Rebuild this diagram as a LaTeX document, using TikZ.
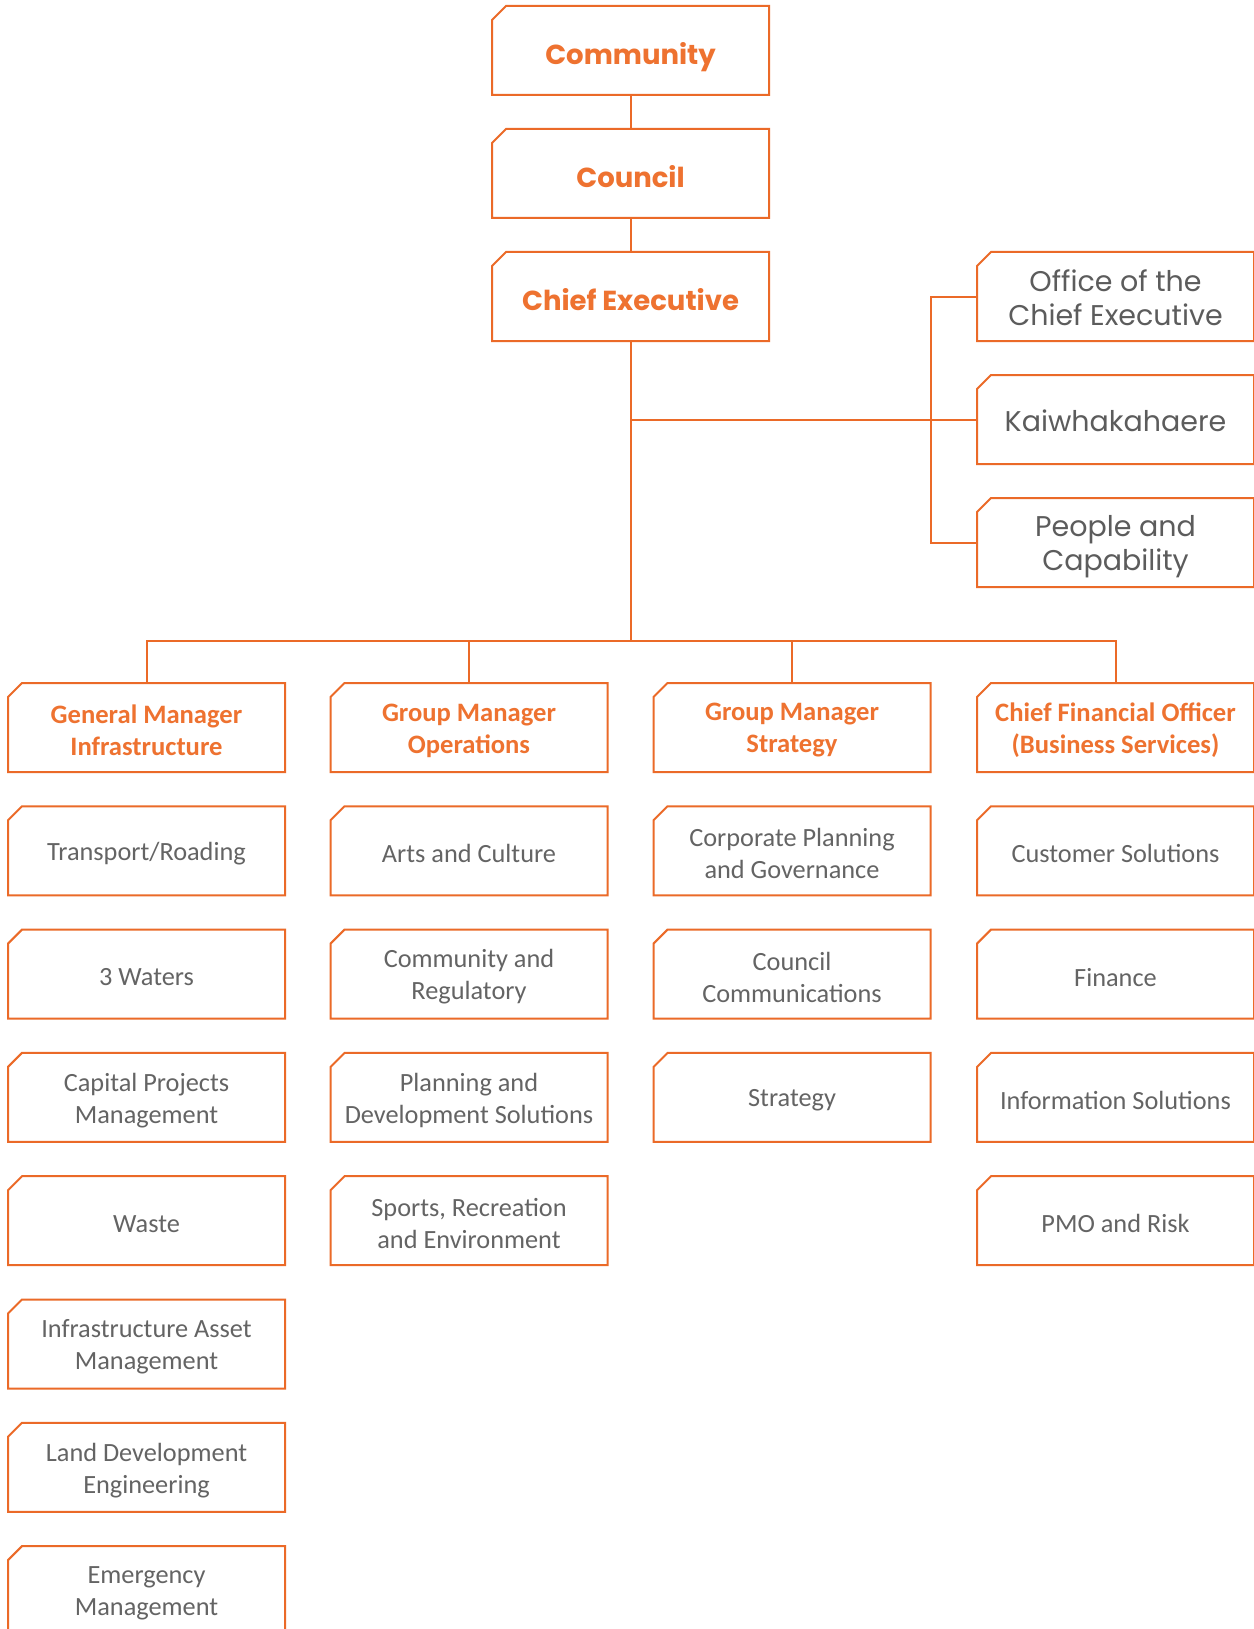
\documentclass[tikz,border=0pt]{standalone}
\usepackage{fontspec}
\setmainfont{Carlito}
\newfontfamily\popfont{Poppins}
\definecolor{ln}{HTML}{EB6A28}
\definecolor{otx}{HTML}{EE7230}
\definecolor{gtx}{HTML}{5C5C5C}
\definecolor{itx}{HTML}{646464}
\tikzset{
 base/.style={minimum width=277pt, minimum height=89pt, inner sep=0pt, outer sep=0pt},
 txt/.style={inner sep=0pt, outer sep=0pt, align=center},
 toptxt/.style={txt, font=\popfont\bfseries\fontsize{27.5}{34}\selectfont, text=otx, text height=20pt, text depth=0pt, yshift=-4pt},
 sidetxt/.style={txt, font=\popfont\fontsize{28.5}{34.5}\selectfont, text=gtx, yshift=-1pt},
 headtxt/.style={txt, font=\bfseries\fontsize{26.6}{32}\selectfont, text=otx, yshift=-3pt},
 itemtxt/.style={txt, font=\fontsize{26.3}{32}\selectfont, text=itx, yshift=-3pt},
 conn/.style={draw=ln, line width=2pt},
}
\newcommand\chamf[1]{\draw[conn] ([yshift=-14pt]#1.north west) -- ([xshift=14pt]#1.north west) -- (#1.north east) -- (#1.south east) -- (#1.south west) -- cycle;}
% \bx[extra yshift]{style}{name}{position}{text}
\newcommand\bx[5][0pt]{\node[base] (#3) at (#4) {};\node[#2txt, yshift=#1] (#3-t) at (#3.center) {#5};\chamf{#3}}
\begin{document}
\begin{tikzpicture}[x=1pt,y=-1pt]
\useasboundingbox[fill=white] (0,0) rectangle (1253,1629);
% top chain
\bx{top}{community}{630.5,50.5}{Community}
\bx{top}{council}{630.5,173.5}{Council}
\bx{top}{ce}{630.5,296.5}{Chief Executive}
% side boxes
\bx{side}{office}{1115.5,296.5}{Office of the\\Chief Executive}
\bx{side}{kai}{1115.5,419.5}{Kaiwhakahaere}
\bx[-3pt]{side}{people}{1115.5,542.5}{People and\\Capability}
% headers
\bx{head}{gm1}{146.5,727.5}{General Manager\\Infrastructure}
\bx{head}{gm2}{469,727.5}{Group Manager\\Operations}
\bx{head}{gm3}{792,727.5}{Group Manager\\Strategy}
\bx{head}{cfo}{1115.5,727.5}{Chief Financial Officer\\(Business Services)}
% column 1
\bx{item}{a1}{146.5,850.8}{Transport/Roading}
\bx{item}{a2}{146.5,974.1}{3 Waters}
\bx{item}{a3}{146.5,1097.4}{Capital Projects\\Management}
\bx{item}{a4}{146.5,1220.7}{Waste}
\bx{item}{a5}{146.5,1344}{Infrastructure Asset\\Management}
\bx{item}{a6}{146.5,1467.3}{Land Development\\Engineering}
\bx{item}{a7}{146.5,1590.6}{Emergency\\Management}
% column 2
\bx{item}{b1}{469,850.8}{Arts and Culture}
\bx{item}{b2}{469,974.1}{Community and\\Regulatory}
\bx{item}{b3}{469,1097.4}{Planning and\\Development Solutions}
\bx{item}{b4}{469,1220.7}{Sports, Recreation\\and Environment}
% column 3
\bx{item}{c1}{792,850.8}{Corporate Planning\\and Governance}
\bx{item}{c2}{792,974.1}{Council\\Communications}
\bx{item}{c3}{792,1097.4}{Strategy}
% column 4
\bx{item}{d1}{1115.5,850.8}{Customer Solutions}
\bx{item}{d2}{1115.5,974.1}{Finance}
\bx{item}{d3}{1115.5,1097.4}{Information Solutions}
\bx{item}{d4}{1115.5,1220.7}{PMO and Risk}
% connectors
\coordinate (bus) at (630.5,641);
\coordinate (brk) at (931,0);
\draw[conn] (community) -- (council);
\draw[conn] (council) -- (ce);
\draw[conn] (ce.south) -- (bus);
\draw[conn] (ce.south |- kai.west) -- (kai.west);
\draw[conn] (office.west) -- (brk |- office.west) -- (brk |- people.west) -- (people.west);
\draw[conn] (gm1.north) -- (gm1.north |- bus) -- (cfo.north |- bus) -- (cfo.north);
\draw[conn] (gm2.north) -- (gm2.north |- bus);
\draw[conn] (gm3.north) -- (gm3.north |- bus);
\end{tikzpicture}
\end{document}
